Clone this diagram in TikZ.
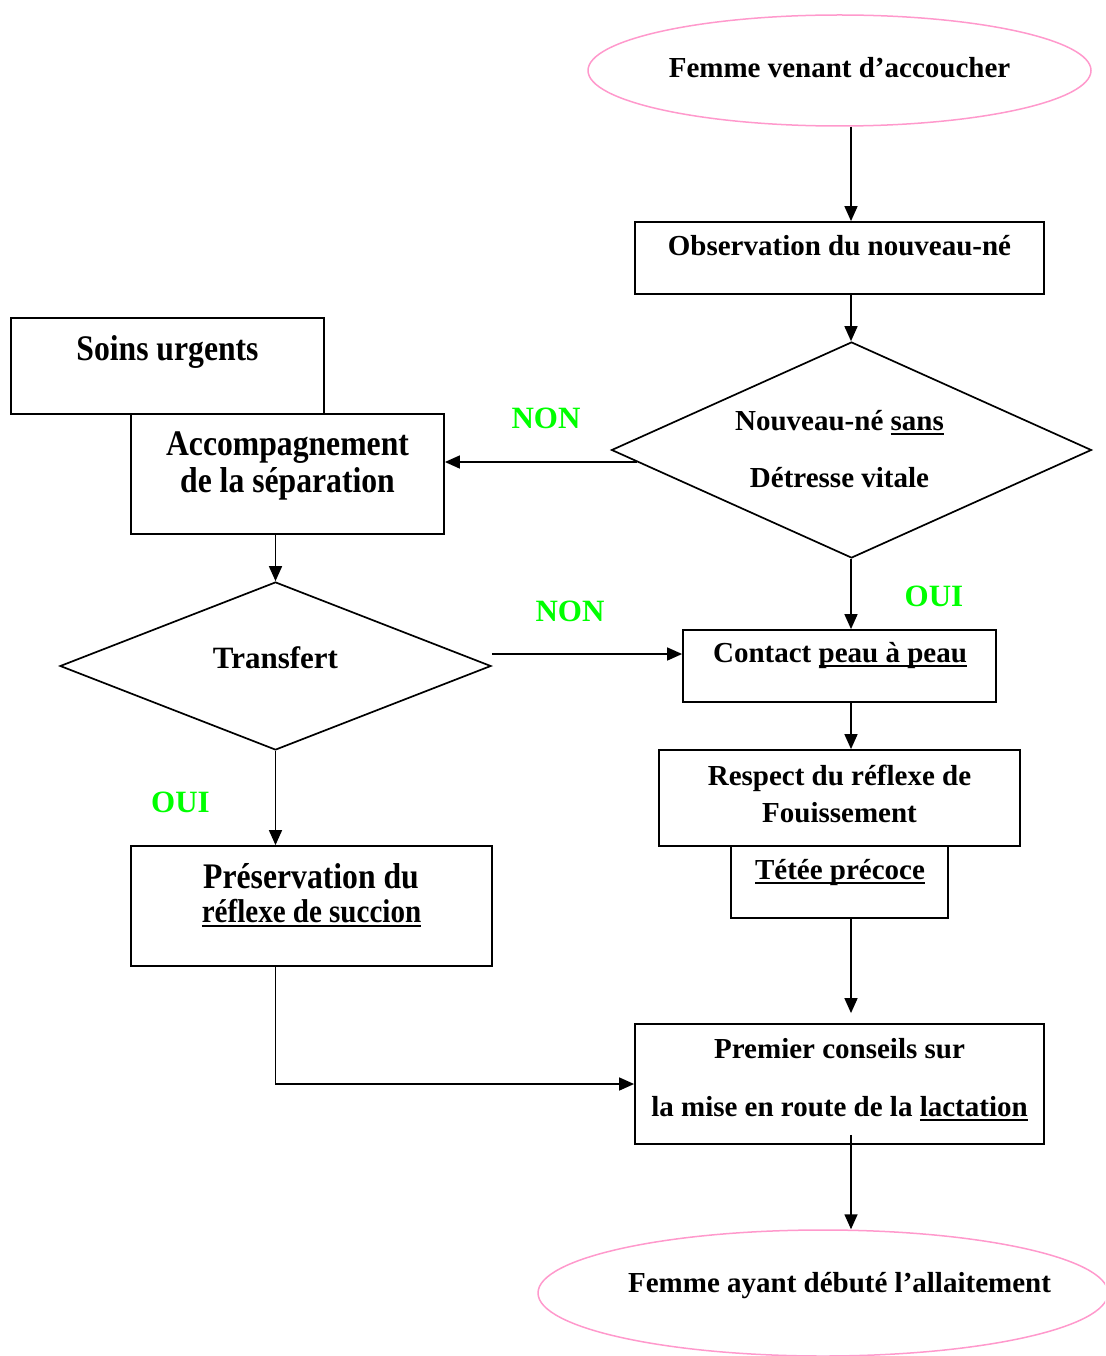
\documentclass[tikz,border=0pt]{standalone}
\usepackage{fontspec}
\setmainfont{Liberation Serif}
\newfontfamily\etroit{Liberation Serif}[FakeStretch=0.88]
\usepackage{xcolor}
\usetikzlibrary{shapes.geometric}
\usetikzlibrary{arrows.meta}
\definecolor{rose}{RGB}{255,153,204}
\definecolor{vert}{RGB}{0,255,0}
\newsavebox\soulbox
\newcommand\souligne[1]{\sbox\soulbox{#1}\rlap{\rule[-4.5pt]{\wd\soulbox}{1.6pt}}\usebox\soulbox}

\begin{document}
\begin{tikzpicture}[x=1pt, y=-1pt,
	boite/.style={draw, rectangle, line width=1.8pt, inner sep=0pt},
	losange/.style={draw, diamond, line width=1.7pt, inner sep=0pt},
	bulle/.style={draw=rose, ellipse, line width=1.5pt, inner sep=0pt},
	txt/.style={anchor=base, inner sep=0pt, font=\bfseries\fontsize{29}{35}\selectfont},
	grand/.style={txt, font=\etroit\bfseries\fontsize{36}{40}\selectfont},
	rep/.style={txt, text=vert, font=\bfseries\fontsize{31}{36}\selectfont},
	fleche/.style={-{Triangle[length=15pt,width=13pt]}, line width=1.6pt}]
	\path[use as bounding box, clip] (0,0) rectangle (1105,1356);
	\coordinate (axe) at (851,0);

	% formes
	\node[bulle, minimum width=503pt, minimum height=111pt] (debut) at (839.5,70.5) {};
	\node[boite, minimum width=409pt, minimum height=72pt] (obs) at (839.5,258) {};
	\node[losange, minimum width=480pt, minimum height=216pt] (nouv) at (851.5,450) {};
	\node[boite, minimum width=313pt, minimum height=96pt] (soins) at (167.5,366) {};
	\node[boite, minimum width=313pt, minimum height=120pt] (acc) at (287.5,474) {};
	\node[losange, minimum width=431pt, minimum height=168pt] (trans) at (275.5,666) {};
	\node[boite, minimum width=313pt, minimum height=72pt] (contact) at (839.5,666) {};
	\node[boite, minimum width=361pt, minimum height=96pt] (resp) at (839.5,798) {};
	\node[boite, minimum width=217pt, minimum height=72pt] (tetee) at (839.5,882) {};
	\node[boite, minimum width=361pt, minimum height=120pt] (preserv) at (311.5,906) {};
	\node[boite, minimum width=409pt, minimum height=120pt] (premier) at (839.5,1084) {};
	\node[bulle, minimum width=570pt, minimum height=126pt] (fin) at (823,1293) {};

	% textes
	\node[txt] (t-debut) at (839.5,78) {Femme venant d’accoucher};
	\node[txt] (t-obs) at (839.5,255) {Observation du nouveau-né};
	\node[txt] (t-nouv1) at (839.5,430) {Nouveau-né \souligne{sans}};
	\node[txt] (t-nouv2) at (839.5,487) {Détresse vitale};
	\node[grand] (t-soins) at (167.5,360) {Soins urgents};
	\node[grand] (t-acc1) at (287.5,455) {Accompagnement};
	\node[grand] (t-acc2) at (287.5,492) {de la séparation};
	\node[txt, font=\bfseries\fontsize{31}{36}\selectfont] (t-trans) at (275.5,668) {Transfert};
	\node[txt] (t-contact) at (840,662) {Contact \souligne{peau à peau}};
	\node[txt] (t-resp1) at (839.5,785) {Respect du réflexe de};
	\node[txt] (t-resp2) at (839.5,822) {Fouissement};
	\node[txt] (t-tetee) at (840,879) {\souligne{Tétée précoce}};
	\node[grand] (t-pres1) at (311,888) {Préservation du};
	\node[grand, font=\etroit\bfseries\fontsize{33}{38}\selectfont] (t-pres2) at (311.5,922) {\souligne{réflexe de succion}};
	\node[txt] (t-prem1) at (839.5,1058) {Premier conseils sur};
	\node[txt] (t-prem2) at (839.5,1116) {la mise en route de la \souligne{lactation}};
	\node[txt] (t-fin) at (839.5,1292) {Femme ayant débuté l’allaitement};

	% reponses
	\node[rep] (non1) at (546,428) {NON};
	\node[rep] (non2) at (570,621) {NON};
	\node[rep] (oui1) at (934,606) {OUI};
	\node[rep] (oui2) at (180.5,812) {OUI};

	% fleches
	\draw[fleche] (debut.south -| axe) -- (obs.north -| axe);
	\draw[fleche] (obs.south -| axe) -- (nouv.north -| axe);
	\draw[fleche] (nouv.west) ++(26,12) -- (acc.east |- 0,462);
	\draw[fleche] (nouv.south -| axe) -- (contact.north -| axe);
	\draw[fleche] (acc.south -| trans.north) -- (trans.north);
	\draw[fleche] (trans.east) ++(0,-12) -- (contact.west |- 0,654);
	\draw[fleche] (contact.south -| axe) -- (resp.north -| axe);
	\draw[fleche, shorten >=10pt] (tetee.south -| axe) -- (premier.north -| axe);
	\draw[fleche] (trans.south) -- (preserv.north -| trans.south);
	\draw[fleche] (preserv.south -| trans.south) |- (premier.west);
	\draw[fleche] (premier.south -| axe) ++(0,-10) -- (fin.north -| axe);
\end{tikzpicture}
\end{document}
